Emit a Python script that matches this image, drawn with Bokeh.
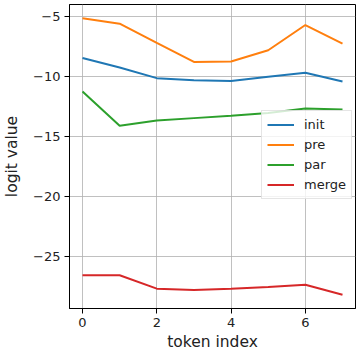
from bokeh.plotting import figure
from bokeh.models import Range1d, FixedTicker, CustomJSTickFormatter, Legend, LegendItem
from bokeh.embed import file_html
from bokeh.resources import INLINE

x = [0, 1, 2, 3, 4, 5, 6, 7]
init = [-8.49, -9.29, -10.17, -10.34, -10.4, -10.06, -9.73, -10.45]
pre = [-5.19, -5.64, -7.24, -8.82, -8.79, -7.85, -5.75, -7.3]
par = [-11.28, -14.13, -13.7, -13.5, -13.3, -13.07, -12.7, -12.78]
merge = [-26.58, -26.58, -27.7, -27.8, -27.7, -27.56, -27.37, -28.2]
series_names = ["init", "pre", "par", "merge"]
colors = ["#1f77b4", "#ff7f0e", "#2ca02c", "#d62728"]
x_ticks = [0, 2, 4, 6]
y_ticks = [-25, -20, -15, -10, -5]

FONT = "DejaVu Sans"

p = figure(width=357, height=355, output_backend="svg", toolbar_location=None,
           x_range=Range1d(-0.35, 7.35), y_range=Range1d(-29.35, -4.04),
           min_border_left=69, min_border_right=2, min_border_top=4, min_border_bottom=47)

p.outline_line_color = "black"
p.outline_line_width = 1
p.background_fill_color = "white"
p.border_fill_color = "white"

items = []
for name, ys, c in zip(series_names, [init, pre, par, merge], colors):
    r = p.line(x, ys, line_color=c, line_width=2)
    items.append(LegendItem(label=name, renderers=[r]))

fmt = CustomJSTickFormatter(code="return tick.toString().replace('-', '\u2212');")
p.xaxis.ticker = FixedTicker(ticks=x_ticks)
p.yaxis.ticker = FixedTicker(ticks=y_ticks)
p.xaxis.formatter = fmt
p.yaxis.formatter = fmt

for ax in (p.xaxis, p.yaxis):
    ax.axis_line_color = "black"
    ax.major_tick_line_color = "black"
    ax.major_tick_out = 5
    ax.major_tick_in = 0
    ax.minor_tick_line_color = None
    ax.major_label_text_font = FONT
    ax.major_label_text_font_size = "13px"
    ax.major_label_text_color = "#222222"
    ax.axis_label_text_font = FONT
    ax.axis_label_text_font_size = "15.5px"
    ax.axis_label_text_font_style = "normal"
    ax.axis_label_text_color = "#222222"
    ax.major_label_standoff = 4

p.xaxis.axis_label = "token index"
p.yaxis.axis_label = "logit value"
p.xaxis.axis_label_standoff = 3
p.yaxis.axis_label_standoff = 9

p.grid.grid_line_color = "#b0b0b0"
p.grid.grid_line_width = 1
p.grid.grid_line_alpha = 0.8

legend = Legend(items=items, location=(192, 109))
legend.label_text_font = FONT
legend.label_text_font_size = "13px"
legend.label_text_color = "#222222"
legend.glyph_width = 27
legend.glyph_height = 17
legend.label_height = 17
legend.label_standoff = 10
legend.spacing = 3
legend.padding = 5
legend.margin = 0
legend.border_line_color = "#cccccc"
legend.border_line_width = 1
legend.background_fill_color = "white"
legend.background_fill_alpha = 0.8
p.add_layout(legend, "center")

open("out.html", "w").write(file_html(p, INLINE))
